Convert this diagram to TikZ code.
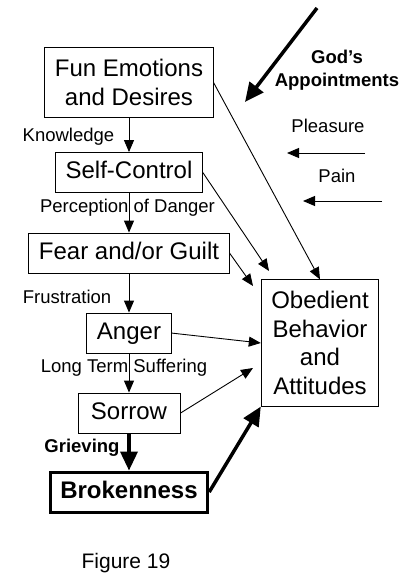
\documentclass[tikz,border=0pt]{standalone}
\usepackage{fontspec}
\setmainfont{Liberation Sans}
\usepackage{tikz}
\usetikzlibrary{positioning,arrows.meta}
\tikzstyle{box}=[draw=black,line width=1pt,font=\fontsize{24}{28.5}\selectfont,inner xsep=10pt,inner ysep=8.75pt,text height=17.5pt,text depth=5pt]
\tikzstyle{tallbox}=[draw=black,line width=1pt,font=\fontsize{24}{28.5}\selectfont,align=center,inner xsep=10pt,inner ysep=11.5pt]
\tikzstyle{boldbox}=[box,line width=3pt,font=\fontsize{24}{28.5}\selectfont\bfseries]
\tikzstyle{lbl}=[font=\fontsize{18.5}{23}\selectfont,inner sep=0pt]
\tikzstyle{boldlbl}=[lbl,font=\fontsize{18.5}{23}\selectfont\bfseries,align=center]
\tikzstyle{flow}=[line width=0.9pt,-{Triangle[length=12pt,width=10pt]}]
\tikzstyle{heavy}=[line width=3.5pt,-{Triangle[length=19pt,width=17pt]}]

\begin{document}
\begin{tikzpicture}[x=1pt,y=-1pt]
\useasboundingbox (0,0) rectangle (413,585);
% the chain down the left side
\node[tallbox] (fun) at (129,82.5) {Fun Emotions\\and Desires};
\node[box,below=34.5pt of fun] (self) {Self-Control};
\node[box,below=39.5pt of self] (fear) {Fear and/or Guilt};
\node[box,below=39pt of fear] (anger) {Anger};
\node[box,below=39pt of anger,minimum width=102pt] (sorrow) {Sorrow};
\node[boldbox,below=37pt of sorrow] (broken) {Brokenness};
\node[tallbox] (obed) at (320,343) {Obedient\\Behavior\\and\\Attitudes};

% labels
\node[lbl] (know) at (68.5,137) {Knowledge};
\node[lbl] (danger) at (127.5,208) {Perception of Danger};
\node[lbl] (frust) at (67,297) {Frustration};
\node[lbl] (suffer) at (124,368) {Long Term Suffering};
\node[boldlbl] (grieve) at (82,448) {Grieving};
\node[boldlbl] (god) at (337,70.5) {God’s\\Appointments};
\node[lbl] (pleas) at (328,126) {Pleasure};
\node[lbl] (pain) at (337,176) {Pain};
\node[lbl,font=\fontsize{21}{25}\selectfont] (fig) at (126,563) {Figure 19};

% free ends
\coordinate (godtail) at (317,8);
\coordinate (godtip) at (245,102);
\coordinate (pleasR) at (365,153);
\coordinate (pleasL) at (287,153);
\coordinate (painR) at (382,201);
\coordinate (painL) at (303,201);
\coordinate (selftip) at (269,271);
\coordinate (feartip) at (253,286);
\coordinate (sorrowtip) at (253,368);

% connectors
\draw[flow] (fun) -- (self);
\draw[flow] (self) -- (fear);
\draw[flow] (fear) -- (anger);
\draw[flow] (anger) -- (sorrow);
\draw[heavy] (sorrow) -- (broken);
\draw[flow] (fun.east) -- (obed.north);
\draw[flow] (self.east) -- (selftip);
\draw[flow] (fear.east) -- (feartip);
\draw[flow] (anger.east) -- (obed.west);
\draw[flow] (sorrow.east) -- (sorrowtip);
\draw[heavy] (broken.east) -- (obed.south west);
\draw[heavy] (godtail) -- (godtip);
\draw[flow] (pleasR) -- (pleasL);
\draw[flow] (painR) -- (painL);
\end{tikzpicture}
\end{document}
